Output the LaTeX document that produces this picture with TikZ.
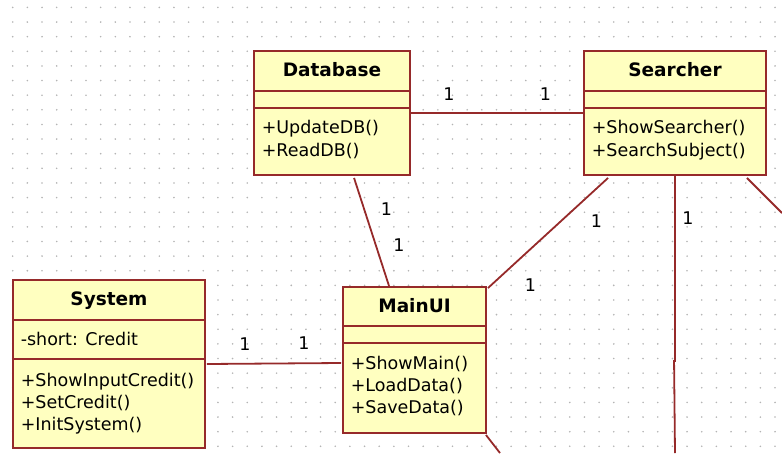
\documentclass[tikz,border=0pt]{standalone}
\usepackage{fontspec}
\setmainfont{DejaVu Sans}
\usetikzlibrary{positioning, calc}
\definecolor{umlline}{HTML}{962A2A}
\definecolor{umlfill}{HTML}{FFFFC0}
\definecolor{griddot}{HTML}{B4B4B4}

\begin{document}
\begin{tikzpicture}[x=1pt,y=-1pt]
                % define styles
\tikzset{umlclass/.style={rectangle,
                       draw=umlline,
                       fill=umlfill,
                       line width=1.9pt,
                       inner sep=0,
                       },
         divider/.style={draw=umlline, line width=1.8pt},
         assoc/.style={draw=umlline, line width=1.8pt},
         classname/.style={anchor=base, inner sep=0, font=\fontsize{18.5}{21}\selectfont\bfseries},
         member/.style={anchor=base west, inner sep=0, font=\fontsize{17.5}{21}\selectfont},
         mult/.style={anchor=base, inner sep=0, font=\fontsize{17.5}{21}\selectfont}
}

\useasboundingbox (0,0) rectangle (782,453);

% dotted background grid
\foreach \i in {0,...,52}
    \foreach \j in {0,...,30}
        \fill[griddot] ({12.7+\i*14.66},{7.4+\j*14.63}) circle (0.9);

% loose ends of the associations
\coordinate (srch-down) at (675,453);
\coordinate (srch-out)  at (782,213);
\coordinate (main-out)  at (500,453);

% nodes
\node[umlclass, minimum width=156, minimum height=124] (database) at (332,113)   {};
\node[umlclass, minimum width=182, minimum height=124] (searcher) at (675,113)   {};
\node[umlclass, minimum width=192, minimum height=168] (system)   at (109,364)   {};
\node[umlclass, minimum width=143, minimum height=146] (mainui)   at (414.5,360) {};

% associations
\draw[assoc] (database) -- (searcher);
\draw[assoc] ($(database.south west)+(101,2)$) -- ($(mainui.north west)+(47,0)$);
\draw[assoc] ($(searcher.south west)+(25,2)$) -- ($(mainui.north east)+(1,2)$);
\draw[assoc] ($(searcher.south west)+(92,0)$) -- ++(0,185) -- ++(-1,0) -- (srch-down);
\draw[assoc] ($(searcher.south east)+(-20,2)$) -- (srch-out);
\draw[assoc] ($(system.east)+(1,0)$) -- ($(mainui.west)+(-1,3)$);
\draw[assoc] ($(mainui.south east)+(-1,1)$) -- (main-out);

% compartments
\foreach \cls/\off in {database/41, database/58, searcher/41, searcher/58,
                       system/41, system/80, mainui/40, mainui/57}
    \draw[divider] ($(\cls.north west)+(0,\off)$) -- ($(\cls.north east)+(0,\off)$);

% class names
\foreach \cls/\txt in {database/Database, searcher/Searcher, system/System, mainui/MainUI}
    \node[classname] (\cls-name) at ($(\cls.north)+(0,26)$) {\txt};

% attributes and operations
\foreach \cls/\idx/\dy/\txt in {database/1/83/+UpdateDB(), database/2/106/+ReadDB(),
                                searcher/1/83/+ShowSearcher(), searcher/2/106/+SearchSubject(),
                                system/0/66/-short: Credit,
                                system/1/107/+ShowInputCredit(), system/2/129/+SetCredit(),
                                system/3/151/+InitSystem(),
                                mainui/1/83/+ShowMain(), mainui/2/105.5/+LoadData(),
                                mainui/3/127/+SaveData()}
    \node[member] (\cls-op\idx) at ($(\cls.north west)+(8.5,\dy)$) {\txt};

% multiplicities
\node[mult] (db-srch)   at (449,100.5) {1};
\node[mult] (srch-db)   at (545.5,100.5) {1};
\node[mult] (db-main)   at (386.5,215) {1};
\node[mult] (main-db)   at (399,251.5) {1};
\node[mult] (srch-main) at (596.5,227.5) {1};
\node[mult] (main-srch) at (530.5,291.5) {1};
\node[mult] (srch-dn)   at (688,224) {1};
\node[mult] (sys-main)  at (245,350.5) {1};
\node[mult] (main-sys)  at (304,349) {1};
\end{tikzpicture}
\end{document}
